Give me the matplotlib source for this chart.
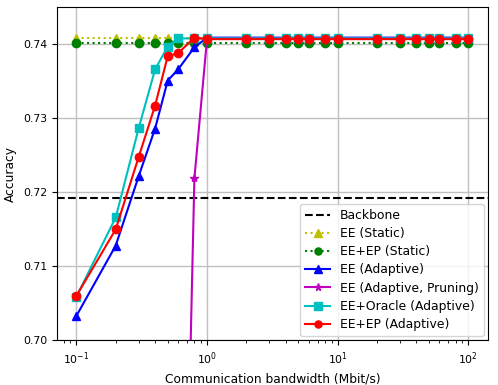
import numpy as np
import matplotlib
matplotlib.use('Agg')
import matplotlib.pyplot as plt

# ================================
# DATA
# ================================
bw = [0.1, 0.2, 0.3, 0.4, 0.5, 0.6, 0.8, 1.0, 2, 3, 4, 5, 6, 8, 10,
      20, 30, 40, 50, 60, 80, 100]
n_high = 15  # points at bandwidth >= 1.0

backbone = 0.7192

ee_static = [0.7408] * len(bw)
eeep_static = [0.7402] * len(bw)

ee_adaptive = [0.7033, 0.7128, 0.7222, 0.7286, 0.7351, 0.7366, 0.7396] + [0.7409] * n_high
oracle_adaptive = [0.7059, 0.7166, 0.7287, 0.7366, 0.7397, 0.7408, 0.7408] + [0.7408] * n_high
eeep_adaptive = [0.7060, 0.7150, 0.7248, 0.7317, 0.7384, 0.7388, 0.7409] + [0.7407] * n_high

bw_prune = [0.6, 0.8] + bw[7:]
ee_prune = [0.625, 0.7219] + [0.7408] * n_high

# ================================
# PLOT
# ================================
plt.rcParams['font.size'] = 8.8
plt.rcParams['xtick.labelsize'] = 7.8
plt.rcParams['ytick.labelsize'] = 7.8
fig, ax = plt.subplots(figsize=(4.98, 3.85), dpi=100)

ax.axhline(backbone, color='k', linestyle='--', linewidth=1.5, label='Backbone')
ax.plot(bw, ee_static, 'y^:', linewidth=1.5, markersize=6, label='EE (Static)')
ax.plot(bw, eeep_static, 'go:', linewidth=1.5, markersize=6, label='EE+EP (Static)')
ax.plot(bw, ee_adaptive, 'b^-', linewidth=1.5, markersize=6, label='EE (Adaptive)')
ax.plot(bw_prune, ee_prune, 'm*-', linewidth=1.5, markersize=6, label='EE (Adaptive, Pruning)')
ax.plot(bw, oracle_adaptive, 'cs-', linewidth=1.5, markersize=6, label='EE+Oracle (Adaptive)')
ax.plot(bw, eeep_adaptive, 'ro-', linewidth=1.5, markersize=6, label='EE+EP (Adaptive)')

ax.set_xscale('log')
ax.set_ylim(0.70, 0.745)
ax.set_yticks([0.70, 0.71, 0.72, 0.73, 0.74])
ax.set_xlabel('Communication bandwidth (Mbit/s)')
ax.set_ylabel('Accuracy')
ax.grid(True, color='#c0c0c0', linewidth=1.0)
ax.legend(loc='lower right', fontsize=8.9, labelspacing=0.42, markerscale=0.85,
          borderaxespad=0.35)

fig.subplots_adjust(left=0.114, right=0.98, top=0.981, bottom=0.116)
plt.savefig('out.png')
